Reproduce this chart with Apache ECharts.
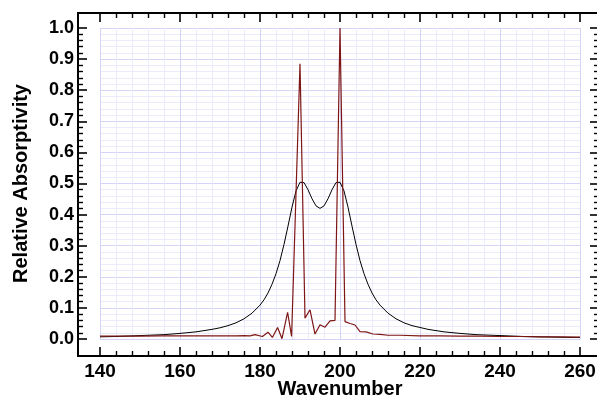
<!DOCTYPE html>
<html>
<head>
<meta charset="utf-8">
<script src="https://cdn.jsdelivr.net/npm/echarts@6/dist/echarts.min.js"></script>
<style>
  html, body { margin: 0; padding: 0; background: #fff; }
  #chart { width: 597px; height: 397px; }
</style>
</head>
<body>
<div id="chart"></div>
<script>
// Broadened absorption profile (black trace)
const smoothX = [140, 144, 148, 152, 156, 160, 164, 168, 170, 172, 174, 176, 178,
  180, 181, 182, 183, 184, 185, 186, 187, 188, 189, 190, 191, 192, 193, 194,
  195, 196, 197, 198, 199, 200, 201, 202, 203, 204, 205, 206, 207, 208, 209, 210,
  212, 214, 216, 218, 222, 226, 230, 234, 238, 242, 246, 250, 254, 258, 260];
const smoothY = [0.007, 0.008, 0.010, 0.012, 0.014, 0.018, 0.023, 0.031, 0.036, 0.043, 0.052, 0.065, 0.083,
  0.109, 0.126, 0.148, 0.176, 0.210, 0.252, 0.304, 0.363, 0.424, 0.476, 0.504, 0.503, 0.480, 0.451, 0.428,
  0.420, 0.428, 0.451, 0.480, 0.503, 0.504, 0.476, 0.424, 0.363, 0.304, 0.252, 0.210, 0.176, 0.148, 0.126, 0.109,
  0.083, 0.065, 0.052, 0.043, 0.031, 0.023, 0.018, 0.014, 0.012, 0.010, 0.008, 0.007, 0.006, 0.005, 0.005];

// Sharp line spectrum with noise (dark red trace)
const sharpX = [140, 145, 150, 155, 160, 165, 170, 174, 176, 177.5, 178.75,
  180.6, 182.0, 183.1, 184.4, 185.5, 186.9, 187.9, 190,
  191.25, 192.5, 193.75, 195, 196.25, 197.5, 198.75, 200,
  201.25, 202.5, 203.75, 205, 206.5, 208.25, 210,
  212, 215, 220, 225, 230, 235, 240, 245, 250, 255, 260];
const sharpY = [0.009, 0.009, 0.009, 0.010, 0.010, 0.010, 0.010, 0.010, 0.011, 0.010, 0.014,
  0.008, 0.022, 0.005, 0.037, 0.001, 0.086, 0.008, 0.885,
  0.067, 0.094, 0.016, 0.046, 0.038, 0.058, 0.060, 1.0,
  0.056, 0.050, 0.045, 0.024, 0.023, 0.016, 0.015,
  0.012, 0.012, 0.010, 0.010, 0.009, 0.009, 0.008, 0.008, 0.007, 0.007, 0.006];

// Axis ranges and tick steps
const xRange = [140, 260];
const xStep = 20;
const yRange = [0, 1];
const yStep = 0.1;

const FONT = "'Liberation Sans', Arial, Helvetica, sans-serif";
const majorGrid = '#d4d4f6';
const minorGrid = '#ebebfb';
const tickMajor = { show: true, inside: true, length: 9, lineStyle: { color: '#000', width: 1.6 } };
const tickMinor = { show: true, splitNumber: 5, length: 5, lineStyle: { color: '#000', width: 1.4 } };

const pairs = (xs, ys) => xs.map((x, i) => [x, ys[i]]);

const chart = echarts.init(document.getElementById('chart'), null, { renderer: 'canvas' });

chart.setOption({
  animation: false,
  backgroundColor: '#fff',
  grid: [
    // plotting area
    { left: 100, right: 17, top: 28, bottom: 58, outerBoundsMode: 'none', containLabel: false },
    // outer frame
    { left: 78, right: -3, top: 13, bottom: 41, outerBoundsMode: 'none', containLabel: false }
  ],
  xAxis: [
    {
      type: 'value', gridIndex: 0, position: 'bottom', offset: 17,
      min: xRange[0], max: xRange[1], interval: xStep,
      axisLine: { show: false, onZero: false },
      axisTick: tickMajor, minorTick: tickMinor,
      axisLabel: { color: '#000', fontFamily: FONT, fontWeight: 'bold', fontSize: 19, margin: 6 },
      splitLine: { show: true, lineStyle: { color: majorGrid, width: 1 } },
      minorSplitLine: { show: true, lineStyle: { color: minorGrid, width: 1 } },
      name: 'Wavenumber', nameLocation: 'middle', nameGap: 23, nameMoveOverlap: false,
      nameTextStyle: { color: '#000', fontFamily: FONT, fontWeight: 'bold', fontSize: 20 }
    },
    {
      type: 'value', gridIndex: 0, position: 'top', offset: 15,
      min: xRange[0], max: xRange[1], interval: xStep,
      axisLine: { show: false, onZero: false },
      axisTick: tickMajor, minorTick: tickMinor,
      axisLabel: { show: false }, splitLine: { show: false }
    },
    {
      type: 'value', gridIndex: 1, position: 'bottom', min: 0, max: 1,
      axisLine: { show: true, onZero: false, lineStyle: { color: '#000', width: 2 } },
      axisTick: { show: false }, axisLabel: { show: false }, splitLine: { show: false }
    },
    {
      type: 'value', gridIndex: 1, position: 'top', min: 0, max: 1,
      axisLine: { show: true, onZero: false, lineStyle: { color: '#000', width: 2 } },
      axisTick: { show: false }, axisLabel: { show: false }, splitLine: { show: false }
    }
  ],
  yAxis: [
    {
      type: 'value', gridIndex: 0, position: 'left', offset: 22,
      min: yRange[0], max: yRange[1], interval: yStep,
      axisLine: { show: false, onZero: false },
      axisTick: tickMajor, minorTick: tickMinor,
      axisLabel: { color: '#000', fontFamily: FONT, fontWeight: 'bold', fontSize: 18, margin: 4,
        formatter: v => v.toFixed(1) },
      splitLine: { show: true, lineStyle: { color: majorGrid, width: 1 } },
      minorSplitLine: { show: true, lineStyle: { color: minorGrid, width: 1 } },
      name: 'Relative Absorptivity', nameLocation: 'middle', nameGap: 47, nameMoveOverlap: false,
      nameTextStyle: { color: '#000', fontFamily: FONT, fontWeight: 'bold', fontSize: 20 }
    },
    {
      type: 'value', gridIndex: 0, position: 'right', offset: 19,
      min: yRange[0], max: yRange[1], interval: yStep,
      axisLine: { show: false, onZero: false },
      axisTick: tickMajor, minorTick: tickMinor,
      axisLabel: { show: false }, splitLine: { show: false }
    },
    {
      type: 'value', gridIndex: 1, position: 'left', min: 0, max: 1,
      axisLine: { show: true, onZero: false, lineStyle: { color: '#000', width: 2 } },
      axisTick: { show: false }, axisLabel: { show: false }, splitLine: { show: false }
    }
  ],
  series: [
    {
      type: 'line', xAxisIndex: 0, yAxisIndex: 0,
      data: pairs(smoothX, smoothY), showSymbol: false, smooth: false,
      lineStyle: { color: '#000', width: 1 }
    },
    {
      type: 'line', xAxisIndex: 0, yAxisIndex: 0,
      data: pairs(sharpX, sharpY), showSymbol: false, smooth: false,
      lineStyle: { color: '#7e1616', width: 1.2 }
    }
  ]
});
</script>
</body>
</html>
